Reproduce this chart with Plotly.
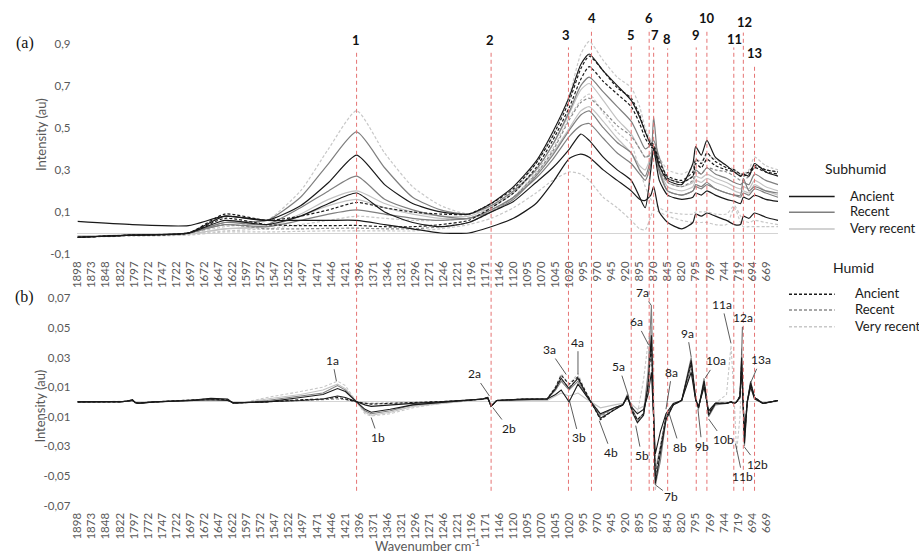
import plotly.graph_objects as go

W, H = 919, 559
def px(x): return x / W
def py(y): return 1 - y / H

# ---------------- data: panel (a) spectra ----------------
WN_A = [1898, 1800, 1700, 1635, 1560, 1500, 1450, 1400, 1350, 1300, 1250, 1200, 1160, 1120, 1080, 1050,
        1020, 1000, 985, 960, 935, 910, 895, 885, 875, 870, 860, 845, 820, 800, 795, 785, 775, 760, 740,
        726, 715, 710, 700, 690, 670, 648]

HV1 = [-0.015, -0.01, 0.0, 0.03, 0.06, 0.2, 0.4, 0.58, 0.38, 0.22, 0.13, 0.09, 0.12, 0.2, 0.33, 0.46, 0.66, 0.85, 0.91, 0.82, 0.74, 0.69, 0.6, 0.5, 0.44, 0.42, 0.36, 0.3, 0.28, 0.31, 0.35, 0.34, 0.37, 0.35, 0.32, 0.3, 0.28, 0.28, 0.3, 0.36, 0.32, 0.3]
SR1 = [-0.02, -0.01, 0.0, 0.05, 0.06, 0.17, 0.33, 0.48, 0.31, 0.17, 0.11, 0.09, 0.13, 0.2, 0.3, 0.42, 0.58, 0.7, 0.74, 0.67, 0.6, 0.53, 0.45, 0.4, 0.42, 0.44, 0.36, 0.26, 0.24, 0.27, 0.3, 0.28, 0.31, 0.28, 0.26, 0.24, 0.23, 0.24, 0.23, 0.28, 0.25, 0.23]
SA1 = [-0.02, -0.01, 0.0, 0.08, 0.06, 0.13, 0.24, 0.37, 0.23, 0.14, 0.1, 0.09, 0.14, 0.22, 0.34, 0.48, 0.65, 0.8, 0.85, 0.77, 0.7, 0.63, 0.55, 0.48, 0.42, 0.41, 0.32, 0.25, 0.23, 0.33, 0.41, 0.37, 0.44, 0.36, 0.32, 0.29, 0.27, 0.28, 0.27, 0.33, 0.29, 0.27]
SR2 = [-0.02, -0.01, 0.0, 0.05, 0.04, 0.12, 0.2, 0.27, 0.16, 0.11, 0.08, 0.07, 0.11, 0.17, 0.26, 0.35, 0.46, 0.51, 0.52, 0.45, 0.38, 0.33, 0.28, 0.25, 0.33, 0.55, 0.3, 0.2, 0.18, 0.2, 0.23, 0.22, 0.24, 0.21, 0.19, 0.18, 0.18, 0.26, 0.2, 0.22, 0.2, 0.19]
SV1 = [-0.015, -0.01, -0.005, 0.02, 0.03, 0.09, 0.16, 0.2, 0.14, 0.1, 0.08, 0.08, 0.12, 0.19, 0.3, 0.42, 0.57, 0.68, 0.71, 0.63, 0.54, 0.47, 0.4, 0.36, 0.38, 0.4, 0.32, 0.24, 0.22, 0.24, 0.27, 0.26, 0.28, 0.26, 0.24, 0.22, 0.21, 0.22, 0.21, 0.25, 0.22, 0.2]
SA2 = [-0.02, -0.01, 0.0, 0.06, 0.04, 0.08, 0.14, 0.19, 0.1, 0.05, 0.03, 0.05, 0.1, 0.15, 0.24, 0.31, 0.4, 0.47, 0.44, 0.36, 0.3, 0.25, 0.17, 0.12, 0.3, 0.4, 0.25, 0.18, 0.16, 0.17, 0.19, 0.18, 0.2, 0.18, 0.16, 0.15, 0.14, 0.17, 0.16, 0.18, 0.16, 0.15]
SV2 = [-0.015, -0.01, -0.005, 0.02, 0.03, 0.08, 0.13, 0.16, 0.12, 0.09, 0.07, 0.07, 0.11, 0.17, 0.28, 0.38, 0.5, 0.58, 0.6, 0.53, 0.45, 0.38, 0.32, 0.3, 0.36, 0.38, 0.3, 0.22, 0.2, 0.22, 0.25, 0.24, 0.26, 0.24, 0.22, 0.2, 0.19, 0.2, 0.19, 0.23, 0.2, 0.18]
HA1 = [-0.02, -0.01, 0.0, 0.09, 0.06, 0.08, 0.11, 0.145, 0.12, 0.1, 0.09, 0.09, 0.14, 0.21, 0.33, 0.46, 0.63, 0.78, 0.84, 0.77, 0.69, 0.64, 0.56, 0.48, 0.43, 0.42, 0.34, 0.27, 0.25, 0.29, 0.35, 0.33, 0.38, 0.34, 0.31, 0.3, 0.28, 0.28, 0.29, 0.32, 0.3, 0.29]
SR3 = [-0.02, -0.01, 0.0, 0.04, 0.03, 0.06, 0.09, 0.11, 0.09, 0.07, 0.06, 0.07, 0.1, 0.16, 0.27, 0.37, 0.49, 0.56, 0.58, 0.5, 0.43, 0.38, 0.3, 0.27, 0.35, 0.4, 0.29, 0.2, 0.18, 0.2, 0.22, 0.21, 0.23, 0.21, 0.19, 0.18, 0.17, 0.19, 0.18, 0.21, 0.19, 0.17]
HV2 = [-0.015, -0.01, -0.005, 0.01, 0.02, 0.04, 0.06, 0.08, 0.07, 0.06, 0.06, 0.07, 0.1, 0.17, 0.29, 0.4, 0.55, 0.63, 0.66, 0.57, 0.48, 0.42, 0.3, 0.22, 0.16, 0.14, 0.12, 0.1, 0.09, 0.09, 0.1, 0.1, 0.1, 0.09, 0.09, 0.13, 0.08, 0.06, 0.05, 0.06, 0.05, 0.04]
SA3 = [0.055, 0.04, 0.035, 0.08, 0.06, 0.06, 0.06, 0.06, 0.04, 0.02, 0.0, 0.0, 0.03, 0.07, 0.14, 0.24, 0.355, 0.375, 0.36, 0.3, 0.25, 0.2, 0.16, 0.155, 0.18, 0.22, 0.1, 0.05, 0.02, 0.05, 0.09, 0.08, 0.095, 0.08, 0.06, 0.04, 0.04, 0.08, 0.07, 0.095, 0.075, 0.06]
HA2 = [-0.02, -0.01, 0.0, 0.07, 0.04, 0.035, 0.035, 0.036, 0.03, 0.03, 0.04, 0.06, 0.12, 0.19, 0.31, 0.44, 0.6, 0.73, 0.79, 0.72, 0.66, 0.6, 0.52, 0.45, 0.41, 0.4, 0.32, 0.26, 0.24, 0.27, 0.33, 0.31, 0.35, 0.32, 0.3, 0.29, 0.27, 0.27, 0.28, 0.31, 0.29, 0.28]
HR1 = [-0.02, -0.01, 0.0, 0.04, 0.02, 0.02, 0.022, 0.023, 0.02, 0.02, 0.03, 0.05, 0.1, 0.17, 0.28, 0.39, 0.54, 0.62, 0.64, 0.58, 0.51, 0.46, 0.4, 0.36, 0.37, 0.38, 0.3, 0.24, 0.22, 0.25, 0.29, 0.28, 0.31, 0.3, 0.29, 0.27, 0.25, 0.25, 0.27, 0.32, 0.3, 0.29]
HV3 = [-0.02, -0.015, -0.01, 0.005, 0.005, 0.008, 0.01, 0.01, 0.01, 0.01, 0.02, 0.04, 0.07, 0.12, 0.19, 0.25, 0.29, 0.28, 0.25, 0.17, 0.12, 0.06, 0.02, 0.015, 0.08, 0.11, 0.1, 0.08, 0.06, 0.05, 0.05, 0.05, 0.05, 0.04, 0.04, 0.12, 0.05, 0.03, 0.03, 0.03, 0.03, 0.03]

# ---------------- data: panel (b) second derivative ----------------
WN_B = [1898, 1820, 1805, 1800, 1795, 1790, 1760, 1700, 1660, 1630, 1620, 1600, 1560, 1500, 1460, 1434, 1420,
        1400, 1385, 1374, 1340, 1300, 1250, 1200, 1175, 1166, 1160, 1150, 1100, 1060, 1045, 1035, 1021, 1005,
        990, 965, 940, 925, 917, 908, 899, 888, 880, 874, 867, 858, 848, 835, 820, 803, 795, 790, 780, 772,
        760, 740, 732, 726, 722, 716, 713, 708, 703, 697, 690, 675, 648]

B_SA1 = [0, 0, 0.001, 0.0015, -0.0005, -0.001, 0, 0.001, 0.0025, 0.002, -0.0008, -0.0005, 0.0, 0.003, 0.005, 0.009, 0.007, 0.0, -0.005, -0.007, -0.005, -0.002, -0.0005, 0.001, 0.002, 0.003, -0.003, 0.001, 0.002, 0.002, 0.009, 0.016, 0.009, 0.016, 0.005, -0.011, -0.005, -0.002, 0.004, -0.007, -0.014, -0.009, 0.012, 0.045, -0.055, -0.035, -0.012, -0.002, 0.001, 0.028, 0.002, -0.004, 0.014, -0.009, -0.001, -0.001, 0.0, -0.001, 0.0, 0.004, 0.03, -0.028, 0.0, 0.013, 0.003, -0.001, 0.001]
B_SA2 = [0, 0, 0.0005, 0.001, -0.0003, -0.0008, 0, 0.0008, 0.0015, 0.001, -0.0005, -0.0004, 0.0, 0.001, 0.002, 0.004, 0.003, 0.0, -0.002, -0.003, -0.002, -0.001, 0.0, 0.001, 0.002, 0.0025, -0.003, 0.001, 0.0015, 0.002, 0.005, 0.008, 0.0, 0.012, 0.004, -0.008, -0.004, -0.002, 0.003, -0.004, -0.008, -0.005, 0.005, 0.02, -0.035, -0.02, -0.008, -0.001, 0.001, 0.02, 0.001, -0.003, 0.01, -0.006, -0.001, -0.001, 0.0, -0.001, 0.0, 0.003, 0.022, -0.02, 0.0, 0.01, 0.002, -0.001, 0.001]
B_SR = [0, 0, 0.001, 0.0015, -0.0005, -0.001, 0, 0.001, 0.002, 0.0015, -0.0008, -0.0005, 0.001, 0.004, 0.006, 0.011, 0.008, 0.0, -0.006, -0.008, -0.006, -0.002, -0.0005, 0.001, 0.002, 0.003, -0.003, 0.001, 0.002, 0.002, 0.008, 0.014, 0.008, 0.014, 0.004, -0.009, -0.004, -0.002, 0.005, -0.005, -0.012, -0.008, 0.02, 0.065, -0.056, -0.04, -0.012, -0.002, 0.001, 0.03, 0.002, -0.005, 0.016, -0.01, -0.002, -0.001, 0.0, -0.001, 0.0, 0.004, 0.032, -0.03, 0.0, 0.014, 0.003, -0.001, 0.001]
B_SV = [0, 0, 0.0005, 0.001, -0.0003, -0.0008, 0, 0.0008, 0.0015, 0.001, -0.0005, -0.0004, 0.002, 0.005, 0.008, 0.012, 0.009, 0.0, -0.007, -0.009, -0.007, -0.003, -0.001, 0.0005, 0.0015, 0.002, -0.002, 0.0005, 0.001, 0.001, 0.004, 0.006, 0.004, 0.006, 0.002, -0.004, -0.002, -0.001, 0.002, -0.002, -0.005, -0.003, 0.006, 0.05, -0.045, -0.03, -0.01, -0.002, 0.0005, 0.022, 0.001, -0.003, 0.012, -0.006, -0.001, -0.001, 0.0, -0.001, 0.0, 0.003, 0.036, -0.025, 0.0, 0.01, 0.002, -0.001, 0.0005]
B_HA = [0, 0, 0.001, 0.0012, -0.0004, -0.0008, 0, 0.001, 0.002, 0.0015, -0.0008, -0.0005, 0.0, 0.0015, 0.002, 0.003, 0.002, 0.0, -0.001, -0.0015, -0.001, -0.0005, 0.0, 0.001, 0.002, 0.003, -0.003, 0.001, 0.002, 0.002, 0.01, 0.018, 0.012, 0.017, 0.006, -0.012, -0.005, -0.002, 0.004, -0.006, -0.012, -0.008, 0.01, 0.04, -0.05, -0.03, -0.01, -0.002, 0.001, 0.026, 0.002, -0.004, 0.013, -0.008, -0.001, -0.001, 0.0, -0.001, 0.0, 0.004, 0.026, -0.024, 0.0, 0.012, 0.003, -0.001, 0.001]
B_HR = [0, 0, 0.0008, 0.001, -0.0004, -0.0008, 0, 0.0008, 0.0015, 0.001, -0.0006, -0.0004, 0.0, 0.001, 0.0015, 0.002, 0.0015, 0.0, -0.001, -0.001, -0.001, -0.0005, 0.0, 0.001, 0.002, 0.003, -0.003, 0.001, 0.002, 0.002, 0.009, 0.015, 0.01, 0.016, 0.005, -0.01, -0.004, -0.002, 0.004, -0.006, -0.013, -0.009, 0.012, 0.042, -0.048, -0.03, -0.01, -0.002, 0.001, 0.024, 0.002, -0.004, 0.012, -0.007, -0.001, -0.001, 0.0, -0.001, 0.0, 0.003, 0.024, -0.022, 0.0, 0.011, 0.003, -0.001, 0.001]
B_HV = [0, 0, 0.0005, 0.001, -0.0003, -0.0008, 0, 0.0008, 0.0015, 0.001, -0.0005, -0.0004, 0.003, 0.007, 0.01, 0.014, 0.011, 0.0, -0.008, -0.0095, -0.008, -0.004, -0.001, 0.001, 0.002, 0.003, -0.003, 0.001, 0.002, 0.002, 0.01, 0.019, 0.012, 0.019, 0.006, -0.008, -0.004, -0.002, 0.003, -0.005, -0.008, 0.015, 0.04, 0.055, -0.06, -0.03, -0.012, -0.002, 0.001, 0.024, 0.002, -0.004, 0.012, -0.006, -0.001, 0.005, 0.038, 0.0, -0.034, -0.01, 0.02, -0.018, 0.0, 0.01, 0.002, -0.001, 0.001]

TICK_WN = [1898, 1873, 1848, 1822, 1797, 1772, 1747, 1722, 1697, 1672, 1647, 1622, 1597, 1572, 1547, 1522,
           1497, 1471, 1446, 1421, 1396, 1371, 1346, 1321, 1296, 1271, 1246, 1221, 1196, 1171, 1146, 1120,
           1095, 1070, 1045, 1020, 995, 970, 945, 920, 895, 870, 845, 820, 795, 769, 744, 719, 694, 669]
YA_TICKS = [-0.1, 0.1, 0.3, 0.5, 0.7, 0.9]
YA_TEXT = ["-0,1", "0,1", "0,3", "0,5", "0,7", "0,9"]
YB_TICKS = [-0.07, -0.05, -0.03, -0.01, 0.01, 0.03, 0.05, 0.07]
YB_TEXT = ["-0,07", "-0,05", "-0,03", "-0,01", "0,01", "0,03", "0,05", "0,07"]

# peak lines: label, wavenumber
PEAKS = [("1", 1400), ("2", 1160), ("3", 1022), ("4", 981), ("5", 910), ("6", 878), ("7", 870),
         ("8", 845), ("9", 794), ("10", 775), ("11", 727), ("12", 710), ("13", 690)]

for arr in [HV1, SR1, SA1, SR2, SV1, SA2, SV2, HA1, SR3, HV2, SA3, HA2, HR1, HV3]:
    assert len(arr) == len(WN_A), len(arr)
for arr in [B_SA1, B_SA2, B_SR, B_SV, B_HA, B_HR, B_HV]:
    assert len(arr) == len(WN_B), len(arr)

STYLE = {
    "SA": dict(color="#1a1a1a", dash="solid"),
    "SR": dict(color="#7f7f7f", dash="solid"),
    "SV": dict(color="#c3c3c3", dash="solid"),
    "HA": dict(color="#1a1a1a", dash="3px,2px"),
    "HR": dict(color="#8a8a8a", dash="3px,2px"),
    "HV": dict(color="#c8c8c8", dash="3px,2px"),
}

fig = go.Figure()
top_series = [("HV", HV3), ("HV", HV2), ("HV", HV1), ("SV", SV1), ("SV", SV2), ("HR", HR1),
              ("SR", SR1), ("SR", SR2), ("SR", SR3), ("HA", HA1), ("HA", HA2),
              ("SA", SA1), ("SA", SA2), ("SA", SA3)]
for key, vals in top_series:
    st = STYLE[key]
    fig.add_trace(go.Scatter(x=WN_A, y=vals, mode="lines", xaxis="x", yaxis="y", showlegend=False,
                             hoverinfo="skip",
                             line=dict(color=st["color"], dash=st["dash"], width=1.2, shape="spline", smoothing=0.6)))
bot_series = [("HV", B_HV), ("SV", B_SV), ("HR", B_HR), ("SR", B_SR), ("HA", B_HA), ("SA", B_SA2), ("SA", B_SA1)]
for key, vals in bot_series:
    st = STYLE[key]
    fig.add_trace(go.Scatter(x=WN_B, y=vals, mode="lines", xaxis="x2", yaxis="y2", showlegend=False,
                             hoverinfo="skip",
                             line=dict(color=st["color"], dash=st["dash"], width=1.1)))

XTICKFONT = dict(family="Lato, Open Sans, sans-serif", size=11.5, color="#595959")
YTICKFONT = dict(family="Lato, Open Sans, sans-serif", size=11.5, color="#595959")
xdom = [px(71), px(777)]
xcommon = dict(domain=xdom, range=[1898, 648], tickvals=TICK_WN, ticktext=[str(t) for t in TICK_WN],
               tickangle=-90, tickfont=XTICKFONT, showgrid=False, zeroline=False, showline=False, ticks="",
               ticklabelstandoff=4)

shapes = []
RED_TOP = {"1": 50, "2": 50, "3": 47, "4": 28, "5": 46, "6": 28, "7": 47, "8": 48, "9": 47,
           "10": 30, "11": 47, "12": 32, "13": 64}
for lab, wn in PEAKS:
    shapes.append(dict(type="line", xref="x", yref="paper", x0=wn, x1=wn, y0=py(496), y1=py(RED_TOP[lab]),
                       line=dict(color="#e57373", width=1, dash="4px,3px"), layer="above"))

annotations = []
def note(x, y, text, font, **kw):
    d = dict(xref="paper", yref="paper", x=px(x), y=py(y), text=text, showarrow=False,
             xanchor="center", yanchor="middle", font=font)
    d.update(kw)
    annotations.append(d)

LAB_POS = {"1": (352, 39), "2": (486.7, 40), "3": (563.7, 34), "4": (589, 17), "5": (628.7, 34),
           "6": (646.7, 17), "7": (653, 34), "8": (665.5, 38), "9": (694, 34), "10": (705.7, 17),
           "11": (732.7, 38), "12": (742.7, 21), "13": (753, 53)}
for lab, wn in PEAKS:
    x0, y0 = LAB_POS[lab]
    note(x0, y0, "<b>%s</b>" % lab, dict(family="Lato, sans-serif", size=13, color="#111"))

# derivative band labels: text, wavenumber tip, value tip, dx, dy (pixels)
BAND_LABELS = [("1a", 1436, 0.014, -4, -21), ("1b", 1374, -0.0105, 7, 20), ("2a", 1163, 0.004, -15, -22),
               ("2b", 1157, -0.0038, 16, 21), ("3a", 1026, 0.0185, -17, -25), ("4a", 1005, 0.0187, 0, -32),
               ("3b", 1021, 0.002, 10, 39), ("4b", 967, -0.0127, 12, 32), ("5a", 914, 0.0029, -10, -31),
               ("5b", 902, -0.016, 6, 30), ("6a", 879, 0.0385, -12, -23), ("7a", 874, 0.065, -9, -13),
               ("7b", 867, -0.056, 16, 12), ("8a", 848, -0.0049, 6, -37), ("8b", 843, -0.0071, 11, 35),
               ("9a", 803, 0.0302, -4, -24), ("9b", 791, -0.0049, 4, 37), ("10a", 778, 0.0162, 11, -17),
               ("10b", 772, -0.0115, 15, 21), ("11a", 732, 0.0395, -9, -39), ("11b", 724, -0.0282, 7, 33),
               ("12a", 713, 0.0318, 1, -37), ("12b", 708, -0.0305, 13, 17), ("13a", 697, 0.0129, 10, -23)]
for t, wn, v, dx, dy in BAND_LABELS:
    annotations.append(dict(xref="x2", yref="y2", x=wn, y=v, text=t, showarrow=True, arrowhead=0,
                            arrowwidth=0.8, arrowcolor="#333", ax=dx, ay=dy, standoff=0,
                            xanchor="center", yanchor="middle",
                            font=dict(family="Lato, sans-serif", size=12, color="#1a1a1a")))

GRAYTXT = "#595959"
SERIF = dict(family="Liberation Serif, serif", size=16, color="#111")
note(18, 43, "(a)", SERIF)
note(18, 300, "(b)", SERIF)
note(35, 135, "Intensity (au)", dict(family="Lato, sans-serif", size=13, color=GRAYTXT), textangle=-90)
note(33, 410, "Intensity (au)", dict(family="Lato, sans-serif", size=13, color=GRAYTXT), textangle=-90)
note(424, 551, "Wavenumber cm<sup>-1</sup>", dict(family="Lato, sans-serif", size=13, color=GRAYTXT))

# custom legend
LEG_FONT = dict(family="Lato, sans-serif", size=13, color="#1a1a1a")
note(855, 170, "Subhumid", dict(family="Lato, sans-serif", size=14, color="#1a1a1a"))
note(853, 270, "Humid", dict(family="Lato, sans-serif", size=14, color="#1a1a1a"))
LEG_ROWS = [("SA", "Ancient", 198, 847), ("SR", "Recent", 214, 847), ("SV", "Very recent", 231, 847),
            ("HA", "Ancient", 297, 852), ("HR", "Recent", 313, 852), ("HV", "Very recent", 330, 852)]
for key, txt, yy, xt in LEG_ROWS:
    st = STYLE[key]
    shapes.append(dict(type="line", xref="paper", yref="paper", x0=px(788), x1=px(834), y0=py(yy), y1=py(yy),
                       line=dict(color=st["color"], width=1.5, dash=st["dash"])))
    note(xt, yy - 1, txt, LEG_FONT, xanchor="left")

fig.update_layout(
    width=W, height=H, margin=dict(l=0, r=0, t=0, b=0),
    paper_bgcolor="white", plot_bgcolor="white", showlegend=False,
    xaxis=dict(anchor="y", **xcommon),
    xaxis2=dict(anchor="y2", **xcommon),
    yaxis=dict(domain=[py(256.3), py(30)], range=[-0.1, 0.961], tickvals=YA_TICKS, ticktext=YA_TEXT,
               tickfont=YTICKFONT, showgrid=False, zeroline=True, zerolinecolor="#d4d4d4", zerolinewidth=1,
               showline=False, ticks="", anchor="x", ticklabelstandoff=6),
    yaxis2=dict(domain=[py(511), py(295)], range=[-0.07, 0.074], tickvals=YB_TICKS, ticktext=YB_TEXT,
                tickfont=YTICKFONT, showgrid=False, zeroline=True, zerolinecolor="#d4d4d4", zerolinewidth=1,
                showline=False, ticks="", anchor="x2", ticklabelstandoff=6),
    shapes=shapes, annotations=annotations,
)

fig.write_html("out.html")
